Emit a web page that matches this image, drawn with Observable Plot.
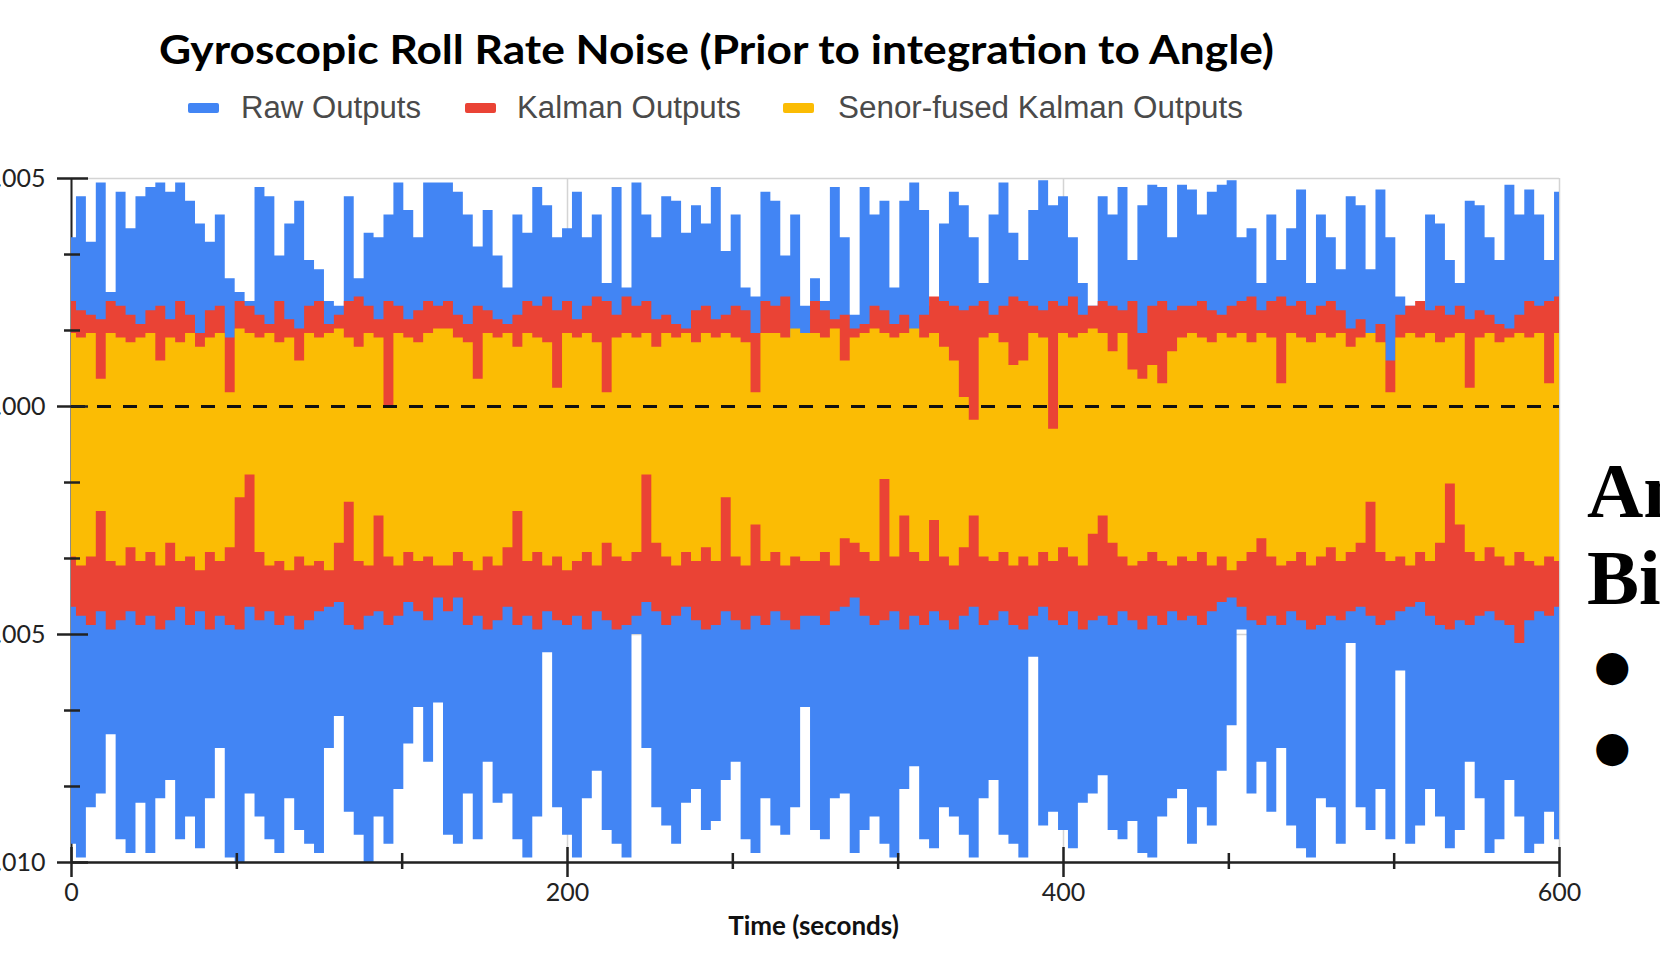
<!DOCTYPE html>
<html><head><meta charset="utf-8">
<script src="https://cdn.jsdelivr.net/npm/d3@7"></script>
<script src="https://cdn.jsdelivr.net/npm/@observablehq/plot@0.6"></script>
<style>
html,body{margin:0;padding:0;background:#fff;}
body{width:1660px;height:955px;overflow:hidden;position:relative;}
#chart{position:absolute;left:0;top:0;}
.abs{position:absolute;white-space:nowrap;transform-origin:0 50%;line-height:normal;}
#title{font-family:Lato,"Open Sans",sans-serif;font-weight:700;font-size:40px;color:#000;}
.leg{font-family:"Liberation Sans",Arial,sans-serif;font-size:31px;color:#4a4a4a;}
.sw{position:absolute;height:10px;width:31px;border-radius:2px;}
.slide{position:absolute;font-family:"Liberation Serif","Times New Roman",serif;font-weight:700;font-size:78px;line-height:78px;color:#000;white-space:nowrap;}
.bul{position:absolute;font-family:"DejaVu Sans",sans-serif;font-size:42px;line-height:40px;height:40px;color:#000;}
</style></head><body>
<div id="chart"></div>
<div id="title" class="abs">Gyroscopic Roll Rate Noise (Prior to integration to Angle)</div>
<div class="sw" style="left:188px;top:103px;background:#4285F4"></div>
<div id="leg1" class="abs leg">Raw Outputs</div>
<div class="sw" style="left:465px;top:103px;background:#EA4335"></div>
<div id="leg2" class="abs leg">Kalman Outputs</div>
<div class="sw" style="left:783px;top:103px;background:#FBBC04"></div>
<div id="leg3" class="abs leg">Senor-fused Kalman Outputs</div>
<div class="slide" style="left:1587px;top:452px">An</div>
<div class="slide" style="left:1587px;top:539px">Bi</div>
<div class="bul" style="left:1594px;top:646px">●</div>
<div class="bul" style="left:1594px;top:727px">●</div>
<script>
// Time samples (seconds)
const times = [0,4,8,12,16,20,24,28,32,36,40,44,48,52,56,60,64,68,72,76,80,84,88,92,96,100,104,108,112,116,120,124,128,132,136,140,144,148,
152,156,160,164,168,172,176,180,184,188,192,196,200,204,208,212,216,220,224,228,232,236,240,244,248,252,256,260,264,268,272,276,280,284,288,292,296,
300,304,308,312,316,320,324,328,332,336,340,344,348,352,356,360,364,368,372,376,380,384,388,392,396,400,404,408,412,416,420,424,428,432,436,440,444,448,
452,456,460,464,468,472,476,480,484,488,492,496,500,504,508,512,516,520,524,528,532,536,540,544,548,552,556,560,564,568,572,576,580,584,588,592,596,600];

// Roll rate envelopes, in units of 0.001 (upper / lower extent of each noisy trace)
const rawUpper = [3.7,4.6,3.6,4.9,2.5,4.7,3.9,4.6,4.8,4.9,4.7,4.9,4.5,4.0,3.6,4.2,2.8,2.5,2.3,4.8,4.6,3.3,4.0,4.5,3.2,3.0,2.3,2.2,4.6,2.8,3.8,3.7,4.2,4.9,4.3,3.7,4.9,4.9,
4.9,4.7,4.2,3.5,4.3,3.3,2.6,4.2,3.8,4.8,4.4,3.7,3.9,4.7,3.7,4.2,2.7,4.8,2.6,4.9,4.2,3.7,4.6,4.5,3.8,4.4,4.0,4.8,3.4,4.2,2.6,2.4,4.7,4.5,3.3,4.2,2.2,
2.8,2.3,4.8,3.7,2.0,4.8,4.2,4.5,2.6,4.5,4.9,4.3,2.2,4.0,4.7,4.4,3.7,2.7,4.2,4.9,3.8,3.2,4.3,4.95,4.4,4.6,3.7,2.7,2.2,4.6,4.2,4.8,3.2,4.4,4.85,4.8,3.7,4.85,
4.75,4.2,4.7,4.85,4.95,3.7,3.9,2.7,4.2,3.2,3.9,4.75,2.7,4.2,3.7,3.0,4.6,4.4,3.0,4.75,3.7,2.4,2.2,2.1,4.2,4.0,3.2,2.7,4.5,4.4,3.7,3.2,4.85,4.2,4.75,4.2,3.2,4.7];
const rawLower = [-9.6,-9.9,-8.8,-8.5,-7.2,-9.5,-9.8,-8.7,-9.8,-8.6,-8.2,-9.5,-9.0,-9.7,-8.6,-7.5,-9.9,-10.0,-8.5,-9.0,-9.5,-9.8,-8.6,-9.3,-9.6,-9.8,-7.5,-6.8,-8.9,-9.4,-10.0,-9.0,-9.6,-8.4,-7.4,-6.6,-7.8,-6.5,
-9.4,-9.6,-8.5,-9.5,-7.8,-8.7,-8.5,-9.5,-9.9,-9.0,-5.4,-8.8,-9.4,-9.9,-8.6,-8.0,-9.3,-9.6,-9.9,-5.0,-7.5,-8.8,-9.2,-9.6,-8.7,-8.4,-9.3,-9.1,-8.2,-7.8,-9.5,-9.8,-8.6,-9.2,-9.4,-8.8,-6.6,
-9.3,-9.5,-8.6,-8.5,-9.8,-9.3,-9.0,-9.6,-9.9,-8.4,-7.9,-9.5,-9.7,-8.8,-9.0,-9.4,-9.9,-8.6,-8.2,-9.4,-9.6,-9.9,-5.5,-9.2,-8.9,-9.3,-9.7,-8.7,-8.5,-8.1,-9.3,-9.5,-9.1,-9.8,-9.9,-9.0,-8.6,-8.4,
-9.6,-8.8,-9.2,-8.0,-7.0,-4.9,-8.5,-7.8,-8.9,-7.5,-9.2,-9.7,-9.9,-8.6,-8.8,-9.6,-5.2,-8.8,-9.3,-8.4,-9.5,-5.8,-9.6,-9.2,-8.4,-9.0,-9.7,-9.3,-7.8,-8.6,-9.8,-9.5,-8.2,-9.0,-9.8,-9.6,-8.9,-9.5];
const kalmanUpper = [2.3,2.1,2.0,1.9,2.3,2.2,2.0,1.8,2.1,2.2,1.9,2.3,2.0,1.6,2.1,2.2,1.5,2.3,2.2,2.0,1.8,2.3,1.9,1.7,2.2,2.3,1.8,2.0,2.3,2.4,2.2,1.9,2.3,2.2,1.9,2.1,2.3,2.2,
2.3,2.0,1.8,2.2,2.1,1.9,1.8,2.0,2.3,2.2,2.4,2.1,2.3,1.9,2.2,2.4,2.3,2.0,2.4,2.2,2.3,1.9,2.0,1.8,1.7,2.1,2.2,1.9,2.0,2.2,2.1,1.6,2.3,2.2,2.4,1.5,1.2,
2.3,2.1,1.9,2.0,1.7,1.8,2.2,2.1,1.8,2.0,1.6,2.0,2.4,2.3,2.2,2.1,2.2,2.3,2.0,2.2,2.4,2.3,2.2,2.1,2.3,2.2,2.4,2.0,2.2,2.3,2.2,2.1,2.3,1.6,2.2,2.3,2.1,2.2,
2.2,2.3,2.1,2.0,2.2,2.3,2.4,2.1,2.3,2.4,2.2,2.3,2.0,2.2,2.3,2.1,1.7,1.9,1.6,1.8,1.0,2.0,2.2,2.3,2.1,2.2,2.0,2.2,1.9,2.1,2.0,1.8,1.7,2.0,2.3,2.2,2.3,2.4];
const kalmanLower = [-4.4,-4.6,-4.8,-4.5,-4.9,-4.7,-4.5,-4.8,-4.6,-4.9,-4.7,-4.4,-4.8,-4.5,-4.9,-4.6,-4.8,-4.9,-4.4,-4.7,-4.5,-4.8,-4.6,-4.9,-4.7,-4.5,-4.4,-4.3,-4.8,-4.9,-4.6,-4.5,-4.8,-4.6,-4.3,-4.5,-4.7,-4.2,
-4.5,-4.2,-4.8,-4.6,-4.9,-4.7,-4.4,-4.8,-4.6,-4.9,-4.5,-4.7,-4.8,-4.6,-4.9,-4.5,-4.7,-4.9,-4.8,-4.6,-4.3,-4.5,-4.8,-4.6,-4.4,-4.7,-4.9,-4.8,-4.5,-4.7,-4.9,-4.6,-4.8,-4.5,-4.7,-4.9,-4.6,
-4.6,-4.8,-4.5,-4.4,-4.2,-4.6,-4.8,-4.7,-4.5,-4.9,-4.6,-4.8,-4.5,-4.7,-4.9,-4.6,-4.4,-4.8,-4.7,-4.5,-4.8,-4.9,-4.6,-4.4,-4.7,-4.8,-4.5,-4.9,-4.7,-4.6,-4.8,-4.5,-4.7,-4.9,-4.6,-4.8,-4.5,-4.7,
-4.6,-4.8,-4.5,-4.3,-4.2,-4.4,-4.7,-4.8,-4.6,-4.8,-4.5,-4.7,-4.9,-4.8,-4.6,-4.7,-4.5,-4.4,-4.6,-4.8,-4.7,-4.5,-4.4,-4.3,-4.6,-4.8,-4.9,-4.7,-4.8,-4.6,-4.5,-4.7,-4.8,-5.2,-4.7,-4.5,-4.6,-4.4];
const fusedUpper = [1.6,1.5,1.6,0.6,1.6,1.5,1.4,1.5,1.6,1.0,1.5,1.4,1.6,1.3,1.5,1.6,0.3,1.7,1.6,1.5,1.6,1.4,1.5,1.0,1.6,1.5,1.6,1.7,1.5,1.3,1.6,1.5,0.0,1.6,1.5,1.4,1.6,1.7,
1.7,1.5,1.4,0.6,1.6,1.5,1.6,1.3,1.6,1.5,1.4,0.4,1.6,1.5,1.6,1.4,0.3,1.5,1.6,1.5,1.6,1.3,1.6,1.5,1.6,1.4,1.6,1.5,1.6,1.5,1.4,0.3,1.6,1.6,1.5,1.7,1.6,
1.6,1.5,1.7,1.0,1.5,1.6,1.7,1.6,1.5,1.6,1.7,1.5,1.6,1.3,1.0,0.2,-0.3,1.5,1.6,1.4,0.9,1.0,1.6,1.5,-0.5,1.6,1.5,1.6,1.7,1.6,1.2,1.6,0.8,0.6,0.9,0.5,1.2,1.5,
1.6,1.5,1.4,1.6,1.5,1.6,1.4,1.6,1.5,0.5,1.6,1.5,1.4,1.6,1.5,1.6,1.3,1.5,1.6,1.4,0.3,1.5,1.6,1.5,1.6,1.4,1.5,1.6,0.4,1.5,1.6,1.4,1.5,1.6,1.5,1.6,0.5,1.6];
const fusedLower = [-3.3,-3.5,-3.3,-2.3,-3.4,-3.5,-3.1,-3.4,-3.2,-3.5,-3.0,-3.4,-3.3,-3.6,-3.2,-3.4,-3.1,-2.0,-1.5,-3.2,-3.5,-3.4,-3.6,-3.3,-3.5,-3.4,-3.6,-3.0,-2.1,-3.4,-3.5,-2.4,-3.3,-3.5,-3.2,-3.4,-3.3,-3.5,
-3.5,-3.2,-3.4,-3.6,-3.3,-3.5,-3.1,-2.3,-3.4,-3.2,-3.5,-3.3,-3.6,-3.4,-3.2,-3.5,-3.0,-3.3,-3.4,-3.2,-1.5,-3.0,-3.3,-3.5,-3.2,-3.4,-3.1,-3.4,-2.0,-3.3,-3.5,-2.6,-3.4,-3.2,-3.5,-3.3,-3.4,
-3.4,-3.2,-3.5,-2.9,-3.0,-3.2,-3.4,-1.6,-3.3,-2.4,-3.2,-3.4,-2.5,-3.3,-3.5,-3.1,-2.4,-3.3,-3.4,-3.2,-3.5,-3.3,-3.5,-3.2,-3.4,-3.1,-3.3,-3.5,-2.8,-2.4,-3.0,-3.3,-3.5,-3.4,-3.2,-3.4,-3.5,-3.3,
-3.4,-3.2,-3.5,-3.3,-3.6,-3.4,-3.2,-2.9,-3.3,-3.5,-3.4,-3.2,-3.5,-3.3,-3.1,-3.4,-3.2,-3.0,-2.1,-3.2,-3.4,-3.3,-3.5,-3.2,-3.4,-3.0,-1.7,-2.6,-3.2,-3.4,-3.1,-3.3,-3.5,-3.2,-3.4,-3.5,-3.3,-3.4];

// Axis ticks (x in seconds, y in units of 0.001)
const xMajorTicks = [0, 200, 400, 600];
const xMinorTicks = [66.667, 133.333, 266.667, 333.333, 466.667, 533.333];
const yMajorTicks = [5, 0, -5, -10];
const yMinorTicks = [3.333, 1.667, -1.667, -3.333, -6.667, -8.333];

const series = [rawUpper, rawLower, kalmanUpper, kalmanLower, fusedUpper, fusedLower];
series.forEach((s, k) => { if (s.length !== times.length) console.error("length mismatch", k, s.length, times.length); });

const rows = times.map((t, i) => ({
  t, rawHi: rawUpper[i], rawLo: rawLower[i], kalHi: kalmanUpper[i], kalLo: kalmanLower[i], fusHi: fusedUpper[i], fusLo: fusedLower[i]
}));

const blue = "#4285F4", red = "#EA4335", yellow = "#FBBC04", ink = "#222";

const chart = Plot.plot({
  width: 1660, height: 955,
  marginLeft: 71, marginRight: 101, marginTop: 178, marginBottom: 93,
  x: {domain: [0, 600]},
  y: {domain: [-10, 5]},
  style: {background: "white", fontFamily: "Lato, 'Open Sans', sans-serif", fontSize: "25px", color: ink, overflow: "visible"},
  marks: [
    Plot.ruleX(xMajorTicks, {stroke: "#d4d4d4", strokeWidth: 1.5}),
    Plot.ruleY(yMajorTicks, {stroke: "#d4d4d4", strokeWidth: 1.5}),
    Plot.ruleX([0], {stroke: ink, strokeWidth: 2}),
    Plot.areaY(rows, {x: "t", y1: "rawLo", y2: "rawHi", fill: blue, curve: "step"}),
    Plot.areaY(rows, {x: "t", y1: "kalLo", y2: "kalHi", fill: red, curve: "step"}),
    Plot.areaY(rows, {x: "t", y1: "fusLo", y2: "fusHi", fill: yellow, curve: "step"}),
    Plot.ruleY([0], {stroke: "#111", strokeWidth: 3, strokeDasharray: "14,12"}),
    Plot.ruleY([-10], {stroke: ink, strokeWidth: 2.5}),
    Plot.ruleY(yMajorTicks, {x1: 0, x2: 0, insetLeft: -14, insetRight: -17, stroke: ink, strokeWidth: 2.5}),
    Plot.ruleY(yMinorTicks, {x1: 0, x2: 0, insetLeft: -7, insetRight: -9, stroke: ink, strokeWidth: 2.5}),
    Plot.ruleX(xMajorTicks, {y1: -10, y2: -10, insetTop: -15, insetBottom: -15, stroke: ink, strokeWidth: 2.5}),
    Plot.ruleX(xMinorTicks, {y1: -10, y2: -10, insetTop: -9, insetBottom: -7, stroke: ink, strokeWidth: 2.5}),
    Plot.axisY({ticks: yMajorTicks, tickSize: 0, tickPadding: 26, tickFormat: d => (d / 1000).toFixed(3), label: null}),
    Plot.axisX({ticks: xMajorTicks, tickSize: 0, tickPadding: 21, label: null}),
    Plot.text(["Time (seconds)"], {frameAnchor: "bottom", dy: 72, dx: -2, fontWeight: 700, fontSize: 26, fill: "#111"})
  ]
});
document.getElementById("chart").appendChild(chart);

function place(id, left, right, cy) {
  const el = document.getElementById(id);
  el.style.left = left + "px";
  el.style.top = "0px";
  el.style.transform = "none";
  const r = el.getBoundingClientRect();
  el.style.top = (cy - r.height / 2) + "px";
  el.style.transform = `scaleX(${(right - left) / r.width})`;
}
place("title", 159, 1274, 49);
place("leg1", 241, 421, 108);
place("leg2", 517, 741, 108);
place("leg3", 838, 1243, 108);
</script>
</body></html>
